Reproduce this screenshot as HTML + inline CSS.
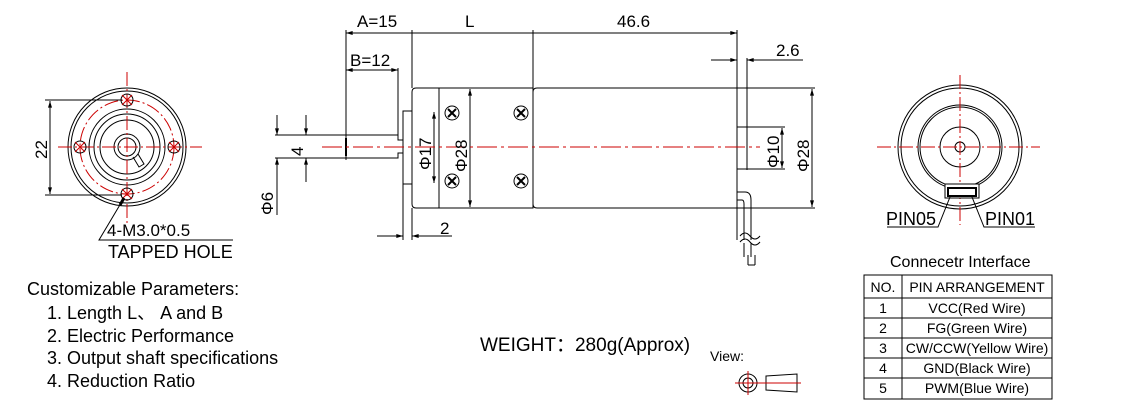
<!DOCTYPE html>
<html><head><meta charset="utf-8"><style>
html,body{margin:0;padding:0;background:#fff}
svg{display:block}
text{font-family:"Liberation Sans","Noto Sans CJK SC",sans-serif;fill:#000}
</style></head><body>
<svg width="1126" height="407" viewBox="0 0 1126 407" xmlns="http://www.w3.org/2000/svg">
<defs>
<marker id="a" viewBox="0 0 10 6" refX="10" refY="3" markerWidth="10" markerHeight="4" orient="auto-start-reverse" markerUnits="userSpaceOnUse"><path d="M0,0L10,3L0,6z" fill="#000"/></marker>
</defs>
<g fill="none" stroke="#000" stroke-width="1">
<!-- left view -->
<circle cx="127" cy="147" r="59"/><circle cx="127" cy="147" r="56"/>
<circle cx="127" cy="147" r="38"/><circle cx="127" cy="147" r="33"/><circle cx="127" cy="147" r="27"/>
<circle cx="127" cy="147" r="13"/><circle cx="127" cy="147" r="9"/>
<path d="M133,157 l6,10 l5,-3 l-6,-10"/>
<g stroke="#c00" stroke-dasharray="14,3,2,3"><circle cx="127" cy="147" r="47"/></g>
<g stroke="#c00"><path d="M127,72V225M58,147H202" stroke-dasharray="14,3,2,3"/></g>
<g stroke="#000"><circle cx="127" cy="100" r="6"/><circle cx="127" cy="194" r="6"/><circle cx="80" cy="147" r="6"/><circle cx="174" cy="147" r="6"/></g>
<g stroke="#c00"><path d="M122,95l10,10M132,95l-10,10M122,189l10,10M132,189l-10,10M75,142l10,10M85,142l-10,10M169,142l10,10M179,142l-10,10"/></g>
<path d="M45,100H122M45,195H122"/>
<path d="M50,101V194" marker-start="url(#a)" marker-end="url(#a)"/>
<path d="M124,198L99,240H233" />
<path d="M124,198l-4,7" stroke-width="3"/>
<!-- middle -->
<path d="M346,135H398V140H403M346,158H398V153H403"/>
<path d="M275,135H346M275,158H346"/>
<path d="M346,30V160" /><path d="M346,138V156" stroke-width="2"/>
<path d="M398,68V135"/>
<rect x="403" y="111" width="9" height="73"/>
<path d="M416,88H533V208H416Q412,208 412,204V92Q412,88 416,88Z"/>
<path d="M439,88V208"/>
<path d="M537,88H737V208H537Q533,208 533,204V92Q533,88 537,88Z"/>
<path d="M412,30V88M533,30V88M737,30V240"/>
<path d="M346,33H412M412,33H533M533,33H737" marker-start="url(#a)" marker-end="url(#a)"/>
<path d="M346,70H398" marker-start="url(#a)" marker-end="url(#a)"/>
<path d="M434,112V183" marker-start="url(#a)" marker-end="url(#a)"/>
<path d="M470,89V207" marker-start="url(#a)" marker-end="url(#a)"/>
<path d="M277,115V135" marker-end="url(#a)"/><path d="M277,215V158" marker-end="url(#a)"/>
<path d="M306,115V135" marker-end="url(#a)"/><path d="M306,182V158" marker-end="url(#a)"/>
<path d="M403,184V240M412,208V240"/>
<path d="M377,236H403" marker-end="url(#a)"/><path d="M452,236H412" marker-end="url(#a)"/>
<g><circle cx="452" cy="113" r="7"/><circle cx="452" cy="181" r="7"/><circle cx="521" cy="113" r="7"/><circle cx="521" cy="181" r="7"/>
<path d="M448,109l8,8M456,109l-8,8M448,177l8,8M456,177l-8,8M517,109l8,8M525,109l-8,8M517,177l8,8M525,177l-8,8" stroke-width="2"/></g>
<rect x="737" y="127" width="10" height="42"/>
<path d="M747,127H785M747,169H785M737,88H815M737,208H815"/>
<path d="M782,128V168" marker-start="url(#a)" marker-end="url(#a)"/>
<path d="M812,89V207" marker-start="url(#a)" marker-end="url(#a)"/>
<path d="M747,58V170"/>
<path d="M711,60H737" marker-end="url(#a)"/><path d="M772,60H747" marker-end="url(#a)"/><path d="M747,60H803"/>
<path d="M737,192H745Q751,192 751,200V240M737,200H742Q744,200 744,204V240"/>
<path d="M740,236q5,-6 10,0t10,0M740,242q5,-6 10,0t10,0"/>
<path d="M744,243V257M751,243V257M748,255V265M755,255V265M748,265H755"/>
<!-- right view -->
<circle cx="960" cy="147" r="62"/><circle cx="960" cy="147" r="59"/>
<circle cx="960" cy="147" r="42"/><circle cx="960" cy="147" r="40"/>
<circle cx="960" cy="147" r="20"/><circle cx="960" cy="147" r="5"/>
<g stroke="#c00" stroke-dasharray="14,3,2,3"><path d="M960,75V225M877,147H1040"/></g>
<rect x="945" y="184" width="34" height="14" fill="#fff"/>
<rect x="948" y="188" width="28" height="8" stroke-width="2"/>
<path d="M887,227H938L950,197M1035,227H984L972,197"/>
<!-- table -->
<rect x="864" y="275" width="188" height="124"/>
<path d="M864,298H1052M864,318H1052M864,338H1052M864,358H1052M864,378H1052M902,275V399"/>
<!-- view icon -->
<circle cx="748" cy="383" r="9"/><circle cx="748" cy="383" r="5"/>
<path d="M766,376L797,374V392L766,390Z"/>
</g>
<g stroke="#c00" fill="none"><path d="M322,147H760" stroke-dasharray="20,4,3,4"/><path d="M735,383H801M748,371V395"/></g>
<!-- texts -->
<g font-size="17">
<text transform="translate(47,159) rotate(-90)">22</text>
<text x="107" y="236">4-M3.0*0.5</text>
<text x="108" y="258" font-size="18">TAPPED HOLE</text>
<text x="357" y="27">A=15</text>
<text x="465" y="27">L</text>
<text x="617" y="27">46.6</text>
<text x="350" y="66">B=12</text>
<text x="776" y="56">2.6</text>
<text x="440" y="234">2</text>
<text transform="translate(303,156) rotate(-90)">4</text>
<text transform="translate(273,215) rotate(-90)">Φ6</text>
<text transform="translate(431,170) rotate(-90)">Φ17</text>
<text transform="translate(467,172) rotate(-90)">Φ28</text>
<text transform="translate(779,168) rotate(-90)">Φ10</text>
<text transform="translate(809,172) rotate(-90)">Φ28</text>
<text x="886" y="225" font-size="18">PIN05</text>
<text x="985" y="225" font-size="18">PIN01</text>
<text x="890" y="267" font-size="16">Connecetr Interface</text>
</g>
<g font-size="14" text-anchor="middle">
<text x="883" y="292">NO.</text><text x="977" y="292">PIN ARRANGEMENT</text>
<text x="883" y="313">1</text><text x="977" y="313">VCC(Red Wire)</text>
<text x="883" y="333">2</text><text x="977" y="333">FG(Green Wire)</text>
<text x="883" y="353">3</text><text x="977" y="353">CW/CCW(Yellow Wire)</text>
<text x="883" y="373">4</text><text x="977" y="373">GND(Black Wire)</text>
<text x="883" y="393">5</text><text x="977" y="393">PWM(Blue Wire)</text>
</g>
<g font-size="18">
<text x="27" y="295">Customizable Parameters:</text>
<text x="47" y="319">1. Length  L、 A and B</text>
<text x="47" y="342">2. Electric Performance</text>
<text x="47" y="364">3. Output shaft specifications</text>
<text x="47" y="387">4. Reduction Ratio</text>
<text x="480" y="351" font-size="19">WEIGHT：280g(Approx)</text>
<text x="710" y="361" font-size="14">View:</text>
</g>
</svg>
</body></html>
